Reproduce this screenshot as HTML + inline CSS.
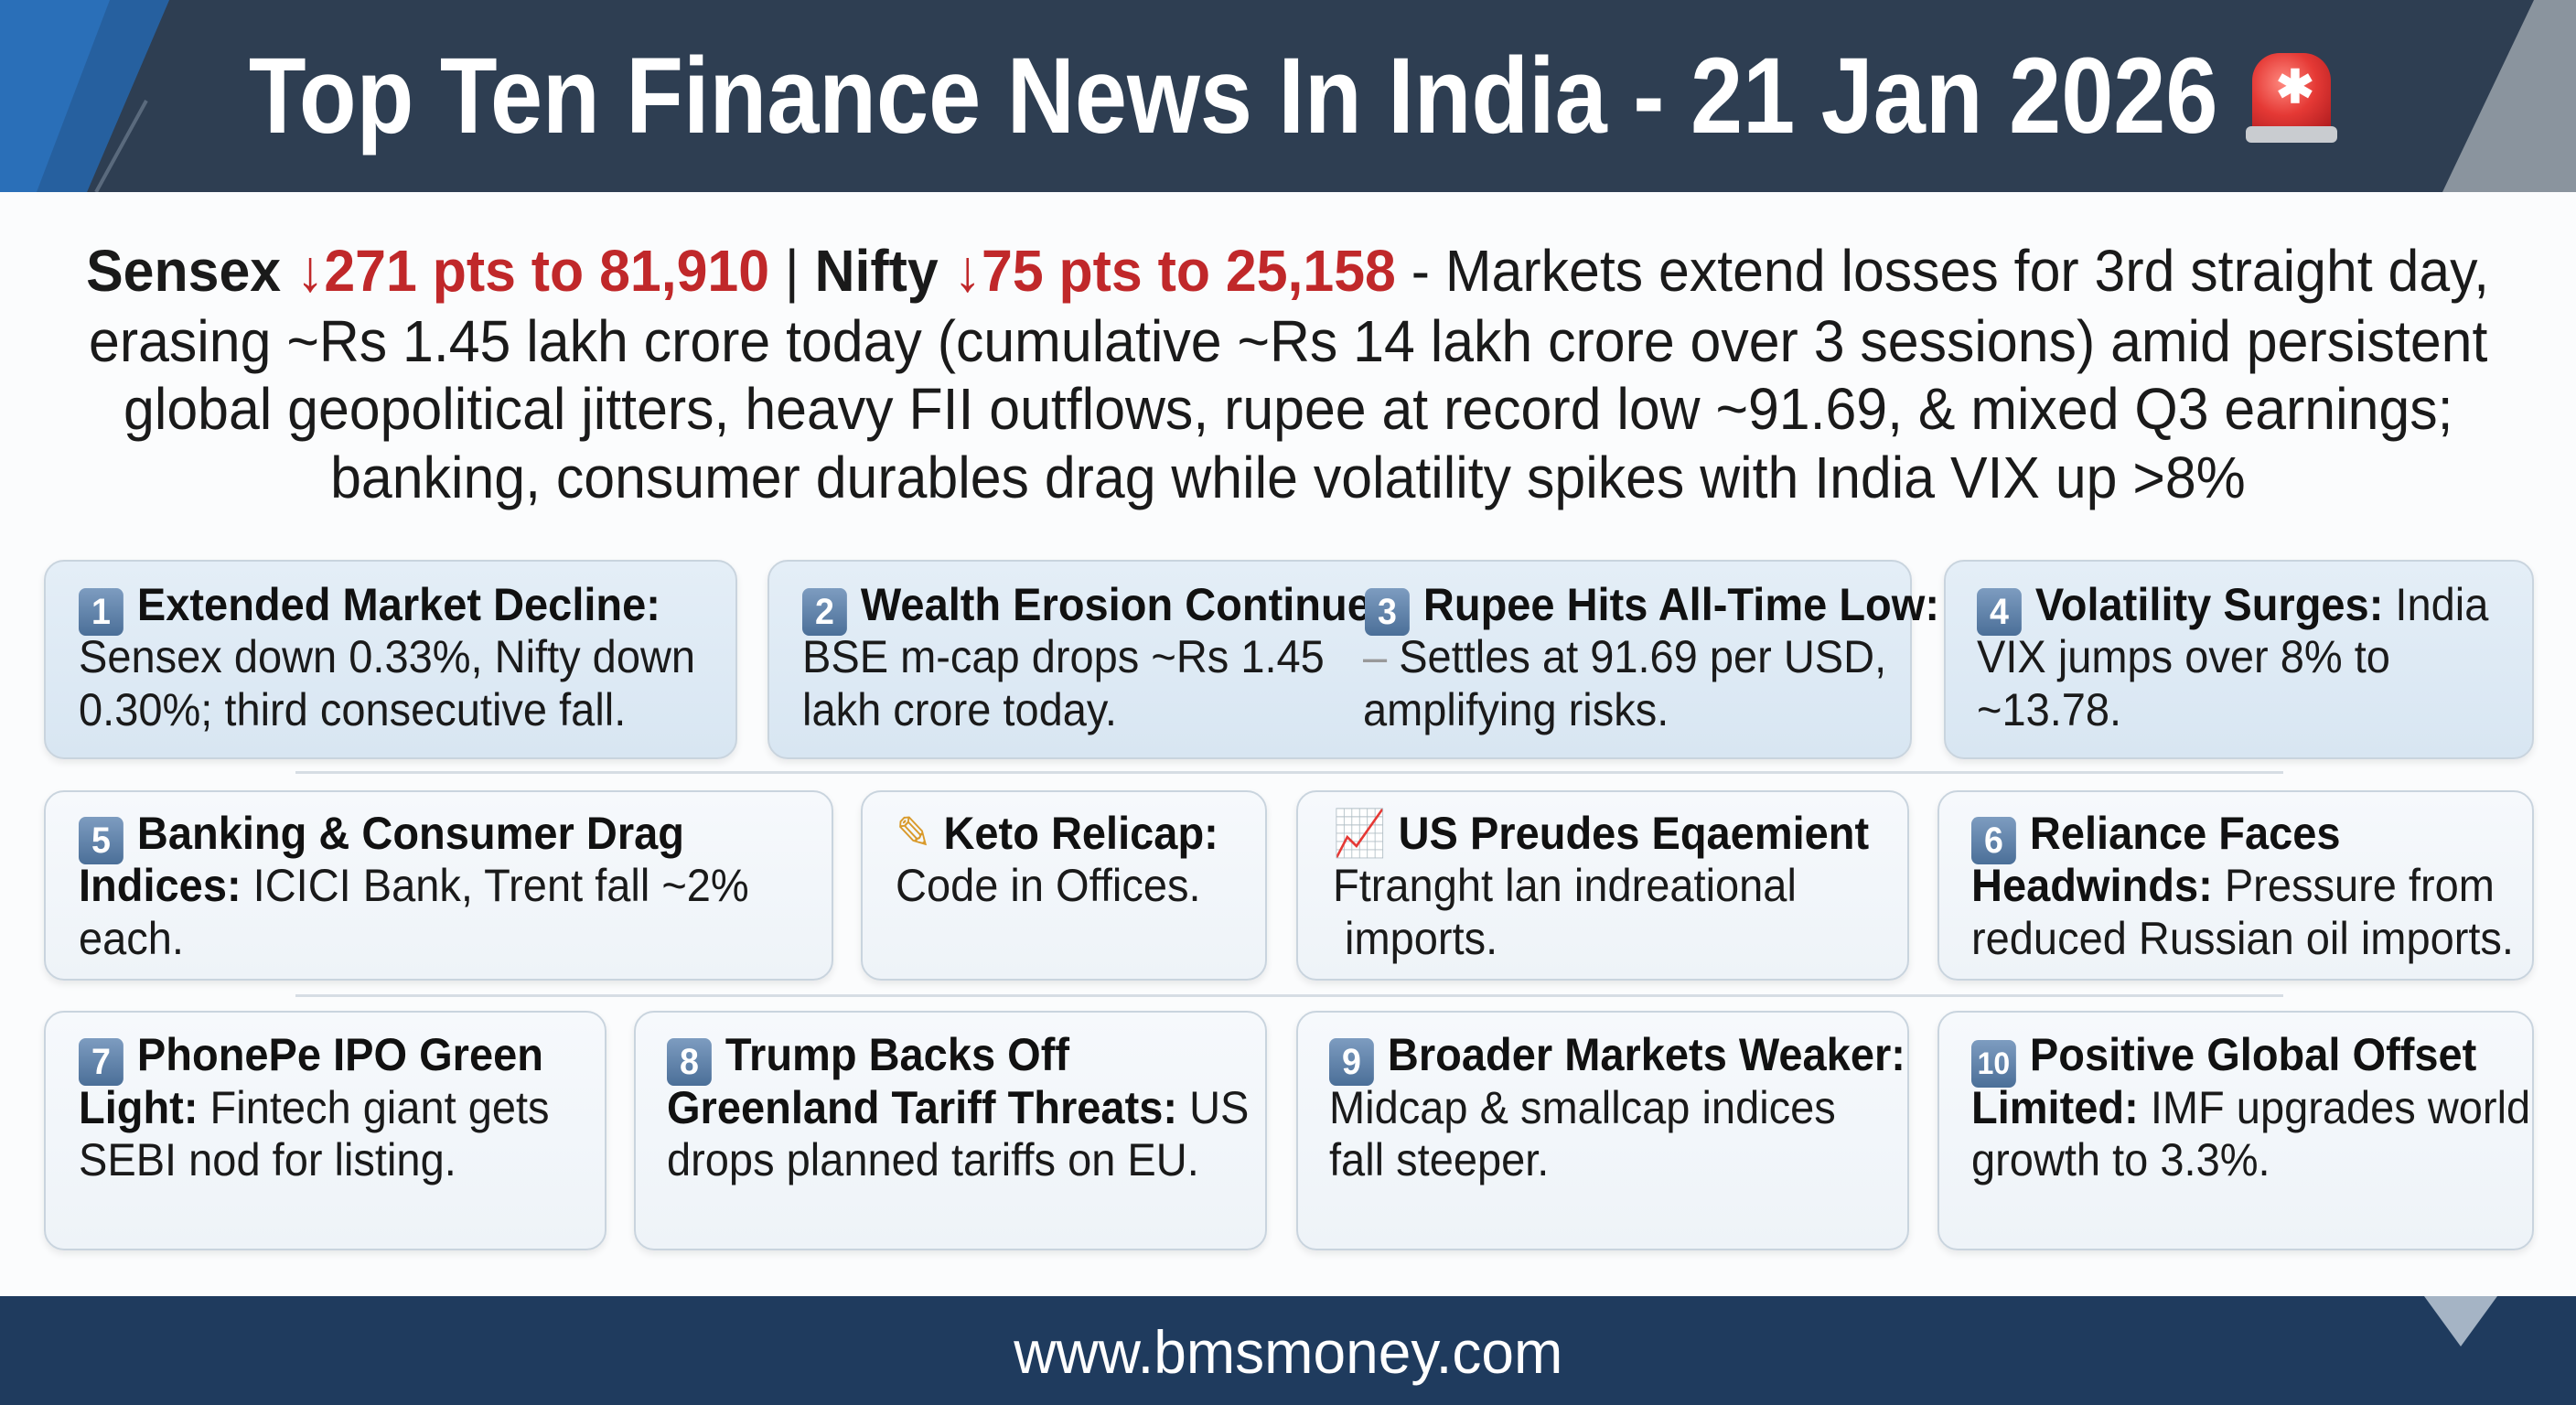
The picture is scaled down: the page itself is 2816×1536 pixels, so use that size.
<!DOCTYPE html>
<html><head><meta charset="utf-8"><style>
*{margin:0;padding:0;box-sizing:border-box}
body{width:2816px;height:1536px;position:relative;overflow:hidden;background:#fbfcfd;font-family:"Liberation Sans",sans-serif}
.hdr{position:absolute;left:0;top:0;width:2816px;height:210px;background:#2e3e52}
.t{position:absolute;white-space:nowrap}
.card{position:absolute;border:2px solid #c9d4de;border-radius:22px;box-shadow:0 4px 8px rgba(0,0,0,0.08)}
.b{background:linear-gradient(#e4eef7,#d8e6f2)}
.w{background:linear-gradient(#f6f9fc,#eef3f8)}
.ln{position:absolute;white-space:nowrap;font-size:50px;line-height:60px;height:60px;color:#1a1a1a;transform:scaleX(0.94);transform-origin:left center}
.ln b{font-weight:bold;color:#111}
.bd{display:inline-block;width:52px;height:52px;border-radius:8px;background:linear-gradient(#7d9cc0,#4b6f98);color:#fff;font-weight:bold;font-size:40px;line-height:52px;text-align:center;vertical-align:-4px;margin-right:16px}
.sum{position:absolute;left:0;width:2816px;text-align:center;font-size:64px;line-height:75px;color:#1a1a1a;white-space:nowrap}
.sum span.i{display:inline-block;transform:scaleX(0.95)}
.r{color:#c0282a;font-weight:bold}
.sep{position:absolute;height:3px;background:#d6dde4;left:323px;width:2173px}
</style></head><body>
<div class="hdr"></div>
<svg style="position:absolute;left:0;top:0" width="2816" height="210">
<polygon points="0,0 185,0 95,210 0,210" fill="#2a6fb8"/>
<polygon points="40,210 120,0 185,0 95,210" fill="#24568e" opacity="0.6"/>
<polygon points="2816,0 2816,210 2670,210 2770,0" fill="#8a949e"/>
<line x1="160" y1="110" x2="105" y2="210" stroke="#5a6a7d" stroke-width="4"/>
</svg>
<div class="t" style="left:0;width:2816px;top:40px;text-align:center;color:#fff;font-weight:bold;font-size:118px;line-height:130px"><span style="display:inline-block;transform:scaleX(0.87);margin-left:-120px">Top Ten Finance News In India - 21 Jan 2026</span></div>
<div style="position:absolute;left:2462px;top:58px;width:86px;height:92px;border-radius:30px 30px 10px 10px;background:radial-gradient(circle at 40% 35%,#ff8a80,#e53935 45%,#a4161a);"></div>
<div style="position:absolute;left:2455px;top:138px;width:100px;height:18px;border-radius:6px;background:#c9ccd0"></div>
<div class="t" style="left:2488px;top:66px;color:#fff;font-size:50px;font-weight:bold">✱</div>

<div class="sum" style="top:259px"><span class="i"><b>Sensex</b> <span class="r">↓271 pts to 81,910</span> | <b>Nifty</b> <span class="r">↓75 pts to 25,158</span> - Markets extend losses for 3rd straight day,</span></div>
<div class="sum" style="top:336px"><span class="i">erasing ~Rs 1.45 lakh crore today (cumulative ~Rs 14 lakh crore over 3 sessions) amid persistent</span></div>
<div class="sum" style="top:410px"><span class="i">global geopolitical jitters, heavy FII outflows, rupee at record low ~91.69, &amp; mixed Q3 earnings;</span></div>
<div class="sum" style="top:485px"><span class="i">banking, consumer durables drag while volatility spikes with India VIX up &gt;8%</span></div>

<div class="card b" style="left:48px;top:612px;width:758px;height:218px"></div>
<div class="card b" style="left:839px;top:612px;width:1251px;height:218px"></div>
<div class="card b" style="left:2125px;top:612px;width:645px;height:218px"></div>
<div class="sep" style="top:843px"></div>
<div class="card w" style="left:48px;top:864px;width:863px;height:208px"></div>
<div class="card w" style="left:941px;top:864px;width:444px;height:208px"></div>
<div class="card w" style="left:1417px;top:864px;width:670px;height:208px"></div>
<div class="card w" style="left:2118px;top:864px;width:652px;height:208px"></div>
<div class="sep" style="top:1087px"></div>
<div class="card w" style="left:48px;top:1105px;width:615px;height:262px"></div>
<div class="card w" style="left:693px;top:1105px;width:692px;height:262px"></div>
<div class="card w" style="left:1417px;top:1105px;width:670px;height:262px"></div>
<div class="card w" style="left:2118px;top:1105px;width:652px;height:262px"></div>

<div class="ln" style="left:86px;top:631px"><span class="bd">1</span><b>Extended Market Decline:</b></div>
<div class="ln" style="left:86px;top:688px">Sensex down 0.33%, Nifty down</div>
<div class="ln" style="left:86px;top:746px">0.30%; third consecutive fall.</div>
<div class="ln" style="left:877px;top:631px"><span class="bd">2</span><b>Wealth Erosion Continues</b></div>
<div class="ln" style="left:877px;top:688px">BSE m-cap drops ~Rs 1.45</div>
<div class="ln" style="left:877px;top:746px">lakh crore today.</div>
<div class="ln" style="left:1492px;top:631px"><span class="bd">3</span><b>Rupee Hits All-Time Low:</b></div>
<div class="ln" style="left:1490px;top:688px"><span style="color:#999">–</span> Settles at 91.69 per USD,</div>
<div class="ln" style="left:1490px;top:746px">amplifying risks.</div>
<div class="ln" style="left:2161px;top:631px"><span class="bd">4</span><b>Volatility Surges:</b> India</div>
<div class="ln" style="left:2161px;top:688px">VIX jumps over 8% to</div>
<div class="ln" style="left:2161px;top:746px">~13.78.</div>

<div class="ln" style="left:86px;top:881px"><span class="bd">5</span><b>Banking &amp; Consumer Drag</b></div>
<div class="ln" style="left:86px;top:938px"><b>Indices:</b> ICICI Bank, Trent fall ~2%</div>
<div class="ln" style="left:86px;top:996px">each.</div>
<div class="ln" style="left:979px;top:881px"><span style="color:#d99a2b">✎</span> <b>Keto Relicap:</b></div>
<div class="ln" style="left:979px;top:938px">Code in Offices.</div>
<div class="ln" style="left:1457px;top:881px"><span style="color:#d32f2f">📈</span> <b>US Preudes Eqaemient</b></div>
<div class="ln" style="left:1457px;top:938px">Ftranght lan indreational</div>
<div class="ln" style="left:1457px;top:996px">&nbsp;imports.</div>
<div class="ln" style="left:2155px;top:881px"><span class="bd">6</span><b>Reliance Faces</b></div>
<div class="ln" style="left:2155px;top:938px"><b>Headwinds:</b> Pressure from</div>
<div class="ln" style="left:2155px;top:996px">reduced Russian oil imports.</div>

<div class="ln" style="left:86px;top:1123px"><span class="bd">7</span><b>PhonePe IPO Green</b></div>
<div class="ln" style="left:86px;top:1181px"><b>Light:</b> Fintech giant gets</div>
<div class="ln" style="left:86px;top:1238px">SEBI nod for listing.</div>
<div class="ln" style="left:729px;top:1123px"><span class="bd">8</span><b>Trump Backs Off</b></div>
<div class="ln" style="left:729px;top:1181px"><b>Greenland Tariff Threats:</b> US</div>
<div class="ln" style="left:729px;top:1238px">drops planned tariffs on EU.</div>
<div class="ln" style="left:1453px;top:1123px"><span class="bd">9</span><b>Broader Markets Weaker:</b></div>
<div class="ln" style="left:1453px;top:1181px">Midcap &amp; smallcap indices</div>
<div class="ln" style="left:1453px;top:1238px">fall steeper.</div>
<div class="ln" style="left:2155px;top:1123px"><span class="bd" style="font-size:34px">10</span><b>Positive Global Offset</b></div>
<div class="ln" style="left:2155px;top:1181px"><b>Limited:</b> IMF upgrades world</div>
<div class="ln" style="left:2155px;top:1238px">growth to 3.3%.</div>

<div style="position:absolute;left:0;top:1417px;width:2816px;height:119px;background:#1f3b5e"></div>
<div class="t" style="left:0;width:2816px;top:1440px;text-align:center;color:#fff;font-size:66px;line-height:76px"><span style="display:inline-block;transform:scaleX(0.97)">www.bmsmoney.com</span></div>
<svg style="position:absolute;left:2650px;top:1417px" width="80" height="60"><polygon points="0,0 80,0 40,55" fill="#c7d3df" opacity="0.8"/></svg>
</body></html>
